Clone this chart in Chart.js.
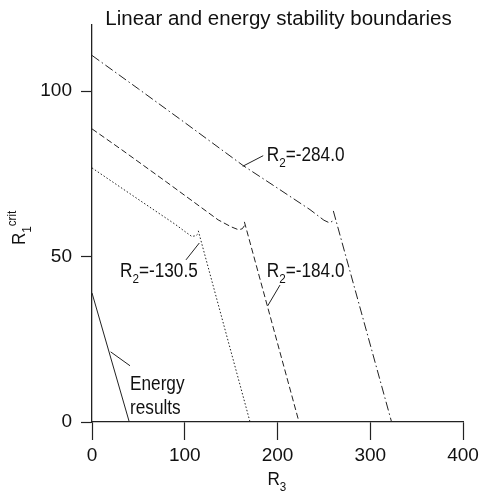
<!DOCTYPE html>
<html>
<head>
<meta charset="utf-8">
<script src="https://cdn.jsdelivr.net/npm/chart.js@4.4.1/dist/chart.umd.min.js"></script>
<style>
  html, body { margin: 0; padding: 0; background: #fff; }
  #wrap { width: 483px; height: 495px; }
</style>
</head>
<body>
<div id="wrap"><canvas id="chart"></canvas></div>
<script>
// Axis ticks
const r3Ticks = [0, 100, 200, 300, 400];
const r1Ticks = [0, 50, 100];

// R2 = -284.0 (dash-dot): upper branch and steep branch
const r3_284 = [0, 50, 100, 163, 200, 235, 250, 256, 262.5];
const r1_284 = [110.8, 100.7, 90.5, 77.5, 70.7, 64.2, 61.0, 60.2, 61.2];
const r3_284b = [260.2, 323];
const r1_284b = [63.8, 0];

// R2 = -184.0 (dashed)
const r3_184 = [0, 32, 80, 136, 150, 158, 162, 165];
const r1_184 = [88.6, 82.3, 72.6, 61.1, 59.0, 58.1, 58.4, 59.6];
const r3_184b = [164.3, 223.2];
const r1_184b = [60.5, 0];

// R2 = -130.5 (dotted)
const r3_130 = [0, 52, 90, 102, 107.5, 112, 115.5];
const r1_130 = [76.8, 66.9, 59.7, 57.2, 56.1, 56.3, 57.2];
const r3_130b = [114.6, 170.4];
const r1_130b = [57.8, 0];

// Energy results (solid)
const r3_energy = [0, 40.2];
const r1_energy = [39, 0];

const FONT = '"Liberation Sans", Arial, Helvetica, sans-serif';
const INK = '#222';

function pts(xs, ys) {
    return xs.map((x, i) => ({ x: x, y: ys[i] }));
}

function line(data, dash) {
    return {
        data: data,
        showLine: true,
        borderColor: INK,
        borderWidth: 1,
        borderDash: dash,
        pointRadius: 0,
        tension: 0,
        fill: false
    };
}

// Text with sub/superscripts, drawn left to right
function drawRich(ctx, x, y, parts, size, sx) {
    ctx.save();
    ctx.translate(x, y);
    ctx.scale(sx, 1);
    ctx.fillStyle = '#111';
    ctx.textBaseline = 'alphabetic';
    ctx.textAlign = 'left';
    let cx = 0;
    parts.forEach(p => {
        let fs = size, dy = 0;
        if (p[1] === 'sub') { fs = size * 0.68; dy = size * 0.3; }
        if (p[1] === 'sup') { fs = size * 0.68; dy = -size * 0.5; }
        ctx.font = fs + 'px ' + FONT;
        ctx.fillText(p[0], cx, dy);
        cx += ctx.measureText(p[0]).width;
    });
    ctx.restore();
}

// Curve labels, positioned in data units
const notes = [
    { parts: [['R'], ['2', 'sub'], ['=-284.0']], x: 188.4, y: 78.8, lead: [[184.6, 80.5], [162.5, 77.3]] },
    { parts: [['R'], ['2', 'sub'], ['=-130.5']], x: 30.2, y: 43.8, lead: [[101.3, 49.0], [115.7, 54.1]] },
    { parts: [['R'], ['2', 'sub'], ['=-184.0']], x: 188.4, y: 43.8, lead: [[202.7, 41.4], [189.4, 35.1]] },
    { parts: [['Energy']], x: 41, y: 9.6, lead: [[41, 17], [20.1, 21.2]] },
    { parts: [['results']], x: 41, y: 2.5, lead: null }
];

const decor = {
    id: 'decor',
    afterDraw(chart) {
        const ctx = chart.ctx;
        const xs = chart.scales.x, ys = chart.scales.y;
        const area = chart.chartArea;

        // title
        ctx.save();
        ctx.font = '20.5px ' + FONT;
        ctx.fillStyle = '#111';
        ctx.textAlign = 'center';
        ctx.textBaseline = 'alphabetic';
        ctx.fillText('Linear and energy stability boundaries', (area.left + area.right) / 2 + 1, 25);
        ctx.restore();

        // x title R3
        drawRich(ctx, (area.left + area.right) / 2 - 10, 485, [['R'], ['3', 'sub']], 19, 0.9);

        // y title R1 crit, rotated
        ctx.save();
        ctx.translate(25, 245);
        ctx.rotate(-Math.PI / 2);
        drawRich(ctx, 0, 0, [['R'], ['1', 'sub'], ['crit', 'sup']], 19, 0.9);
        ctx.restore();

        // curve labels and leader lines
        notes.forEach(n => {
            drawRich(ctx, xs.getPixelForValue(n.x), ys.getPixelForValue(n.y), n.parts, 20, 0.86);
            if (n.lead) {
                ctx.save();
                ctx.strokeStyle = INK;
                ctx.lineWidth = 1;
                ctx.beginPath();
                ctx.moveTo(xs.getPixelForValue(n.lead[0][0]), ys.getPixelForValue(n.lead[0][1]));
                ctx.lineTo(xs.getPixelForValue(n.lead[1][0]), ys.getPixelForValue(n.lead[1][1]));
                ctx.stroke();
                ctx.restore();
            }
        });
    }
};

new Chart(document.getElementById('chart').getContext('2d'), {
    type: 'scatter',
    data: {
        datasets: [
            line(pts(r3_284, r1_284), [9, 3, 1.5, 3]),
            line(pts(r3_284b, r1_284b), [9, 3, 1.5, 3]),
            line(pts(r3_184, r1_184), [6, 3]),
            line(pts(r3_184b, r1_184b), [6, 3]),
            line(pts(r3_130, r1_130), [1.5, 2]),
            line(pts(r3_130b, r1_130b), [1.5, 2]),
            line(pts(r3_energy, r1_energy), [])
        ]
    },
    options: {
        responsive: true,
        maintainAspectRatio: false,
        animation: false,
        layout: { padding: { left: 0, right: 20, top: 25, bottom: 0 } },
        plugins: {
            legend: { display: false },
            tooltip: { enabled: false },
            title: { display: false }
        },
        scales: {
            x: {
                type: 'linear',
                min: 0,
                max: 400,
                afterBuildTicks: s => { s.ticks = r3Ticks.map(v => ({ value: v })); },
                afterFit: s => { s.height = 73; },
                grid: { drawOnChartArea: false, tickLength: 18, color: INK, tickWidth: 1.2 },
                border: { display: true, color: INK, width: 1.3 },
                ticks: { color: '#111', padding: 4, maxRotation: 0, font: { family: FONT, size: 19 } }
            },
            y: {
                type: 'linear',
                min: 0,
                max: 120,
                afterBuildTicks: s => { s.ticks = r1Ticks.map(v => ({ value: v })); },
                afterFit: s => { s.width = 92; },
                grid: { drawOnChartArea: false, tickLength: 11, color: INK, tickWidth: 1.2 },
                border: { display: true, color: INK, width: 1.3 },
                ticks: { color: '#111', padding: 9, font: { family: FONT, size: 19 } }
            }
        }
    },
    plugins: [decor]
});
</script>
</body>
</html>
